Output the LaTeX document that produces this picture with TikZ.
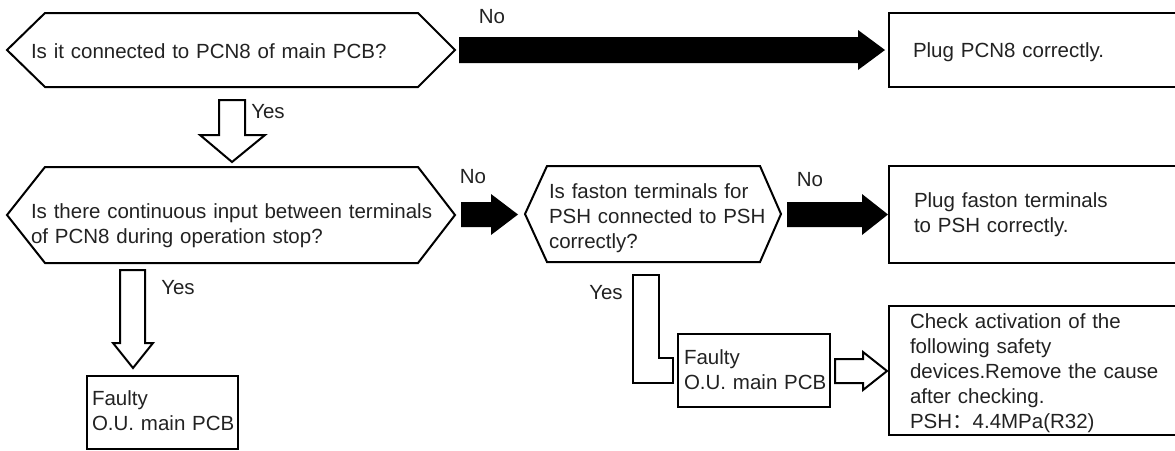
\documentclass[tikz,border=0pt]{standalone}
\usepackage{fontspec}
\setmainfont{Liberation Sans}
\newfontfamily\cjkfont{Noto Sans CJK SC}
\definecolor{txt}{HTML}{222222}
\hyphenpenalty=10000
\begin{document}
\begin{tikzpicture}[x=1pt,y=-1pt,
  outline/.style={draw=black,line width=2pt,line join=miter},
  hollow/.style={draw=black,line width=2pt,fill=white,line join=miter},
  solidarrow/.style={fill=black,draw=none},
  lbl/.style={inner sep=0pt,outer sep=0pt,text=txt,font=\fontsize{20.5}{25}\selectfont,anchor=base west,align=left,text width=#1},
  lbl/.default=500pt,
  tag/.style={inner sep=0pt,text=txt,font=\fontsize{20.5}{25}\selectfont}]
\useasboundingbox (0,0) rectangle (1175,450);

% ---------- row 1 ----------
\draw[outline] (7,50) -- (45,13) -- (418,13) -- (455,50) -- (418,87) -- (45,87) -- cycle;
\node[lbl] (q1) at (31,58) {Is it connected to PCN8 of main PCB?};
\draw[outline] (1190,13) -- (889,13) -- (889,87) -- (1190,87);
\node[lbl=280pt] (a1) at (913,57) {Plug PCN8 correctly.};
% black arrow No
\fill[solidarrow] (459,37) -- (858,37) -- (858,30) -- (885,50) -- (858,70) -- (858,63) -- (459,63) -- cycle;
\node[tag] (no1) at (492,17) {No};

% Yes arrow 1
\draw[hollow] (219,100) -- (245,100) -- (245,135) -- (265,135) -- (232,162) -- (200,135) -- (219,135) -- cycle;
\node[tag] (yes1) at (268,112) {Yes};

% ---------- row 2 ----------
\draw[outline] (7,215) -- (45,167) -- (418,167) -- (455,215) -- (418,263) -- (45,263) -- cycle;
\node[lbl] (q2) at (31,218) {Is there continuous input between terminals\\of PCN8 during operation stop?};

\fill[solidarrow] (461,202) -- (491,202) -- (491,194) -- (518,214.5) -- (491,235) -- (491,227) -- (461,227) -- cycle;
\node[tag] (no2) at (473,177) {No};

\draw[outline] (525,214) -- (547,166) -- (760,166) -- (781,214) -- (760,262) -- (547,262) -- cycle;
\node[lbl=300pt] (q3) at (549,198) {Is faston terminals for\\PSH connected to PSH\\correctly?};

\fill[solidarrow] (787,202) -- (862,202) -- (862,194) -- (888,214.5) -- (862,235) -- (862,227) -- (787,227) -- cycle;
\node[tag] (no3) at (810,180) {No};

\draw[outline] (1190,166) -- (889,166) -- (889,263) -- (1190,263);
\node[lbl=280pt] (a2) at (914,207) {Plug faston terminals\\to PSH correctly.};

% ---------- row 3 left ----------
\draw[hollow] (120,270) -- (145,270) -- (145,343) -- (153,343) -- (133,368) -- (113,343) -- (120,343) -- cycle;
\node[tag] (yes2) at (178,288) {Yes};
\draw[outline] (87,376) rectangle (238,449);
\node[lbl=200pt] (f1) at (92,405) {Faulty\\O.U. main PCB};

% ---------- row 3 right ----------
\draw[hollow] (633,275) -- (659,275) -- (659,358) -- (673,358) -- (673,383) -- (633,383) -- cycle;
\node[tag] (yes3) at (606,293) {Yes};
\draw[outline] (678,334) rectangle (830,407);
\node[lbl=200pt] (f2) at (684,364) {Faulty\\O.U. main PCB};

\draw[hollow] (835,359) -- (863,359) -- (863,352) -- (887,371) -- (863,390) -- (863,383) -- (835,383) -- cycle;

\draw[outline] (1190,306) -- (889,306) -- (889,435) -- (1190,435);
\node[lbl=300pt] (a3) at (910,328) {Check activation of the\\following safety\\devices.Remove the cause\\after checking.\\PSH{\cjkfont ：}4.4MPa(R32)};
\end{tikzpicture}
\end{document}
